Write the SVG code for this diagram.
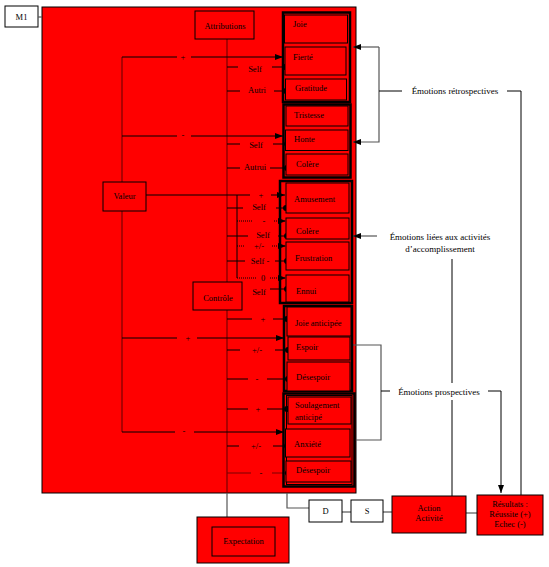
<svg xmlns="http://www.w3.org/2000/svg" width="549" height="567" viewBox="0 0 549 567">
<style>
.t{font-family:"Liberation Serif","Times New Roman",serif;font-size:8.5px;fill:#000}
.r{font-size:9px}
.c{text-anchor:middle}
.box{fill:#f00;stroke:#000;stroke-width:1}
.wbox{fill:#fff;stroke:#000;stroke-width:1}
.grp{fill:none;stroke:#000;stroke-width:2.5}
.ln{stroke:#000;stroke-width:1;fill:none}
.dr{stroke:#7a0000;stroke-width:1.2;fill:none}
.gr{stroke:#555;stroke-width:1.2;fill:none}
.dt{stroke-dasharray:1 1}
.ar{marker-end:url(#arr)}
.bu{marker-end:url(#dot)}
</style>
<defs>
<marker id="arr" markerUnits="userSpaceOnUse" viewBox="0 0 8 6" markerWidth="8" markerHeight="6" refX="8" refY="3" orient="auto"><path d="M0,0 L8,3 L0,6 z" fill="#000"/></marker>
<marker id="dot" markerUnits="userSpaceOnUse" viewBox="0 0 8 8" markerWidth="8" markerHeight="8" refX="4" refY="4"><circle cx="4" cy="4" r="3" fill="#000"/></marker>
</defs>
<rect width="549" height="567" fill="#fff"/>
<g id="main"><rect x="42" y="7" width="314" height="486" class="box"/></g>
<g id="m1"><rect x="5" y="6" width="33" height="21" class="wbox"/><text x="21.5" y="20" class="t c">M1</text></g>

<g id="connectors">
<path d="M38,17 H42" class="gr"/>
<path d="M227,39 V282 M227,310 V493" class="dr"/>
<path d="M227,493 V517" class="gr"/>
<path d="M227,517 V527" class="dr"/>
<path d="M122,57 V182 M122,211 V432" class="dr"/>
<path d="M237,195 V278" class="ln"/>
<path d="M122,57 H177 M191,57 H283" class="ln ar"/>
<path d="M122,136 H177 M191,136 H283" class="ln ar"/>
<path d="M146,195 H250 M271,195 H285" class="ln ar"/>
<path d="M122,338 H177 M197,338 H284" class="ln ar"/>
<path d="M122,432 H175 M194,432 H284" class="ln ar"/>
<path d="M237,221 H253 M274,221 H286" class="ln dt ar"/>
<path d="M237,246 H245 M272,246 H286" class="ln dt ar"/>
<path d="M237,278 H256 M270,278 H286" class="ln dt ar"/>
<path d="M227,67 H238 M272,67 H285" class="ln bu"/>
<path d="M227,91 H240 M274,91 H286" class="ln bu"/>
<path d="M227,144 H240 M273,144 H287" class="ln bu"/>
<path d="M227,168 H240 M270,168 H287" class="ln bu"/>
<path d="M227,208 H243 M276,208 H286" class="ln bu"/>
<path d="M227,236 H248 M278,236 H287" class="ln bu"/>
<path d="M227,261 H245 M275,261 H287" class="ln bu"/>
<path d="M270,289 H287" class="ln bu"/>
<path d="M227,319 H252 M273,319 H287" class="ln bu"/>
<path d="M227,350 H240 M275,350 H288" class="ln bu"/>
<path d="M227,379 H248 M267,379 H288" class="ln bu"/>
<path d="M227,409 H248 M267,409 H287" class="ln bu"/>
<path d="M227,446 H239 M273,446 H287" class="ln bu"/>
<path d="M227,473 H251 M272,473 H288" class="dr bu" stroke-width="1.6"/>
<path d="M379,47 H353" class="gr ar"/>
<path d="M379,47 V142 H353" class="gr ar"/>
<path d="M379,91 H402" class="ln"/>
<path d="M507,91 H521 V495" class="ln"/>
<path d="M377,236 H353" class="gr ar"/>
<path d="M452,259 V383 M452,400 V496" class="ln"/>
<path d="M352,345 H381 V440 H355" class="gr"/>
<path d="M381,391 H390" class="ln"/>
<path d="M488,391 H501 V493" class="ln ar"/>
<path d="M287,493 V508 H309" class="gr"/>
<path d="M342,512 H351" class="gr" stroke-width="2"/>
<path d="M383,512 H392" class="gr"/>
<path d="M466,513 H477" class="gr"/>
</g>

<g id="attributions"><rect x="195" y="11" width="59" height="28" class="box"/><text x="225" y="29" class="t c">Attributions</text></g>
<g id="valeur"><rect x="103" y="182" width="43" height="29" class="box"/><text x="124.5" y="199" class="t c">Valeur</text></g>
<g id="controle"><rect x="193" y="282" width="49" height="28" class="box"/><text x="218" y="301" class="t c">Contrôle</text></g>

<g id="labels">
<text x="183" y="60" class="t c">+</text>
<text x="255" y="72" class="t c">Self</text>
<text x="257" y="93" class="t c">Autri</text>
<text x="183" y="138" class="t c">-</text>
<text x="256" y="148" class="t c">Self</text>
<text x="255" y="170" class="t c">Autrui</text>
<text x="261" y="198" class="t c">+</text>
<text x="259" y="210" class="t c">Self</text>
<text x="264" y="224" class="t c">-</text>
<text x="263" y="238" class="t c">Self</text>
<text x="259" y="249" class="t c">+/-</text>
<text x="260" y="264" class="t c">Self -</text>
<text x="263" y="281" class="t c">0</text>
<text x="259" y="295" class="t c">Self</text>
<text x="263" y="322" class="t c">+</text>
<text x="188" y="341" class="t c">+</text>
<text x="257" y="353" class="t c">+/-</text>
<text x="257" y="382" class="t c">-</text>
<text x="258" y="412" class="t c">+</text>
<text x="184" y="434" class="t c">-</text>
<text x="256" y="449" class="t c">+/-</text>
<text x="261" y="476" class="t c">-</text>
</g>

<g id="g-retro-pos">
<rect x="283" y="12.5" width="67" height="89.5" class="grp"/>
<g id="joie"><rect x="284.5" y="15" width="63" height="28" class="box"/><text x="293" y="27" class="t">Joie</text></g>
<g id="fierte"><rect x="285" y="47" width="61" height="28" class="box"/><text x="293" y="60" class="t">Fierté</text></g>
<g id="gratitude"><rect x="285.5" y="79" width="61" height="21" class="box"/><text x="295" y="91" class="t">Gratitude</text></g>
</g>
<g id="g-retro-neg">
<rect x="283.5" y="104.5" width="67" height="73" class="grp"/>
<g id="tristesse"><rect x="286" y="106" width="62" height="20" class="box"/><text x="294" y="118" class="t">Tristesse</text></g>
<g id="honte"><rect x="285.5" y="130" width="62.5" height="20.5" class="box"/><text x="294" y="142" class="t">Honte</text></g>
<g id="colere1"><rect x="286" y="154" width="62" height="21" class="box"/><text x="296" y="167" class="t">Colère</text></g>
</g>
<g id="g-activite">
<rect x="280" y="181" width="72" height="122" class="grp"/>
<g id="amusement"><rect x="286" y="183" width="63" height="30" class="box"/><text x="294" y="202" class="t">Amusement</text></g>
<g id="colere2"><rect x="286" y="218" width="63" height="21" class="box"/><text x="296" y="234" class="t">Colère</text></g>
<g id="frustration"><rect x="286" y="242" width="63" height="28" class="box"/><text x="295" y="261" class="t">Frustration</text></g>
<g id="ennui"><rect x="286" y="275" width="63" height="27" class="box"/><text x="296" y="294" class="t">Ennui</text></g>
</g>
<g id="g-prosp-pos">
<rect x="284" y="306" width="68" height="85" class="grp"/>
<g id="joie-anticipee"><rect x="287" y="307" width="64" height="29" class="box"/><text x="295" y="326" class="t">Joie anticipée</text></g>
<g id="espoir"><rect x="288" y="337" width="62" height="23" class="box"/><text x="296" y="350" class="t">Espoir</text></g>
<g id="desespoir1"><rect x="287" y="362" width="63" height="29" class="box"/><text x="296" y="380" class="t">Désespoir</text></g>
</g>
<g id="g-prosp-neg">
<rect x="283.5" y="393.5" width="71" height="93" class="grp" stroke-width="2"/>
<rect x="286.5" y="395.5" width="65.5" height="89" class="ln"/>
<g id="soulagement"><rect x="288" y="397" width="63" height="27" class="box"/><text x="295" y="408" class="t">Soulagement</text><text x="295" y="420" class="t">anticipé</text></g>
<g id="anxiete"><rect x="285.5" y="429" width="64.5" height="28" class="box"/><text x="294" y="447" class="t">Anxiété</text></g>
<g id="desespoir2"><rect x="286" y="461" width="65" height="21" class="box"/><text x="296" y="473" class="t">Désespoir</text></g>
</g>

<g id="lbl-retro"><text x="455" y="94" class="t r c">Émotions rétrospectives</text></g>
<g id="lbl-activite"><text x="440" y="240" class="t r c">Émotions liées aux activités</text><text x="440" y="252" class="t r c">d’accomplissement</text></g>
<g id="lbl-prosp"><text x="439" y="395" class="t r c">Émotions prospectives</text></g>

<g id="expectation"><rect x="197" y="517" width="92" height="46" class="box"/><rect x="212" y="527" width="63" height="29" class="box"/><text x="243.5" y="544" class="t c">Expectation</text></g>
<g id="d"><rect x="309" y="500" width="33" height="22" class="wbox"/><text x="325.5" y="514" class="t c">D</text></g>
<g id="s"><rect x="351" y="500" width="32" height="22" class="wbox"/><text x="367" y="514" class="t c">S</text></g>
<g id="action"><rect x="392" y="496" width="74" height="37" class="box"/><text x="429" y="511" class="t c">Action</text><text x="429" y="521" class="t c">Activité</text></g>
<g id="resultats"><rect x="477" y="495" width="66" height="40" class="box"/><text x="510" y="507" class="t c">Résultats :</text><text x="510" y="517" class="t c">Réussite (+)</text><text x="510" y="527" class="t c">Echec (-)</text></g>
</svg>
